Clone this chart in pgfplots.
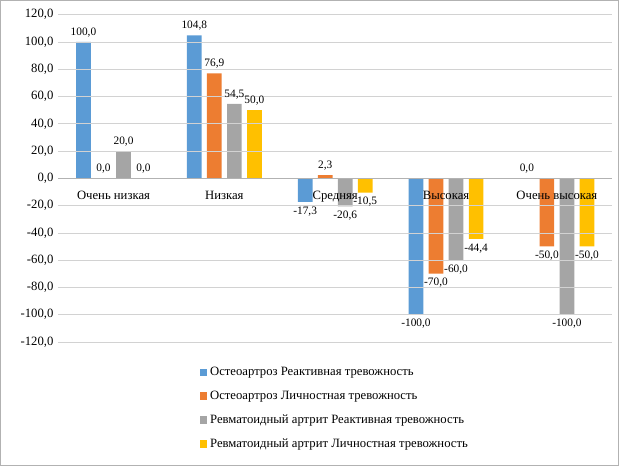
\documentclass[border=0pt]{standalone}
\usepackage{pgfplots}
\pgfplotsset{compat=1.18}
\usepackage{fontspec}
\setmainfont{Liberation Serif}
\definecolor{c1}{HTML}{5B9BD5}
\definecolor{c2}{HTML}{ED7D31}
\definecolor{c3}{HTML}{A5A5A5}
\definecolor{c4}{HTML}{FFC000}
\begin{document}
\begin{tikzpicture}
\useasboundingbox (-43.5pt,-93pt) rectangle (420pt,256pt);
\begin{axis}[
  at={(0,0)}, anchor=south west,
  scale only axis, width=415pt, height=245pt,
  ybar=4pt, bar width=11pt,
  axis on top,
  ymin=-120, ymax=120, ytick distance=20,
  xmin=-0.5, xmax=4.5,
  xtick={0,1,2,3,4},
  xticklabels={Очень низкая,Низкая,Средняя,Высокая,Очень высокая},
  axis x line*=middle, axis y line*=left,
  x axis line style={draw=gray!60,-}, y axis line style={draw=none},
  xtick style={draw=none}, ytick style={draw=none},
  ymajorgrids, grid style={gray!35},
  tick label style={font=\fontsize{9.5}{11}\selectfont},
  xticklabel style={yshift=-2pt},
  /pgf/number format/.cd, fixed, fixed zerofill, precision=1, use comma, assume math mode=true,
  /pgfplots/.cd,
  nodes near coords, every node near coord/.append style={font=\fontsize{8.5}{10}\selectfont, /pgf/number format/.cd, fixed, fixed zerofill, precision=1, use comma, assume math mode=true},
  legend style={at={(0.5,-0.06)}, anchor=north, draw=none, font=\fontsize{9.5}{11}\selectfont, legend cell align=left, row sep=6pt},
  legend image code/.code={\draw[#1,draw=none] (0cm,-0.1cm) rectangle (0.2cm,0.1cm);},
]
\addplot[fill=c1, draw=none] coordinates {(0,100) (1,104.8) (2,-17.3) (3,-100) (4,0)};
\addplot[fill=c2, draw=none] coordinates {(0,0) (1,76.9) (2,2.3) (3,-70) (4,-50)};
\addplot[fill=c3, draw=none] coordinates {(0,20) (1,54.5) (2,-20.6) (3,-60) (4,-100)};
\addplot[fill=c4, draw=none] coordinates {(0,0) (1,50) (2,-10.5) (3,-44.4) (4,-50)};
\legend{Остеоартроз Реактивная тревожность, Остеоартроз Личностная тревожность, Ревматоидный артрит Реактивная тревожность, Ревматоидный артрит Личностная тревожность}
\end{axis}
\draw[gray!60] (-43.2pt,-92.7pt) rectangle (419.7pt,255.7pt);
\end{tikzpicture}
\end{document}
